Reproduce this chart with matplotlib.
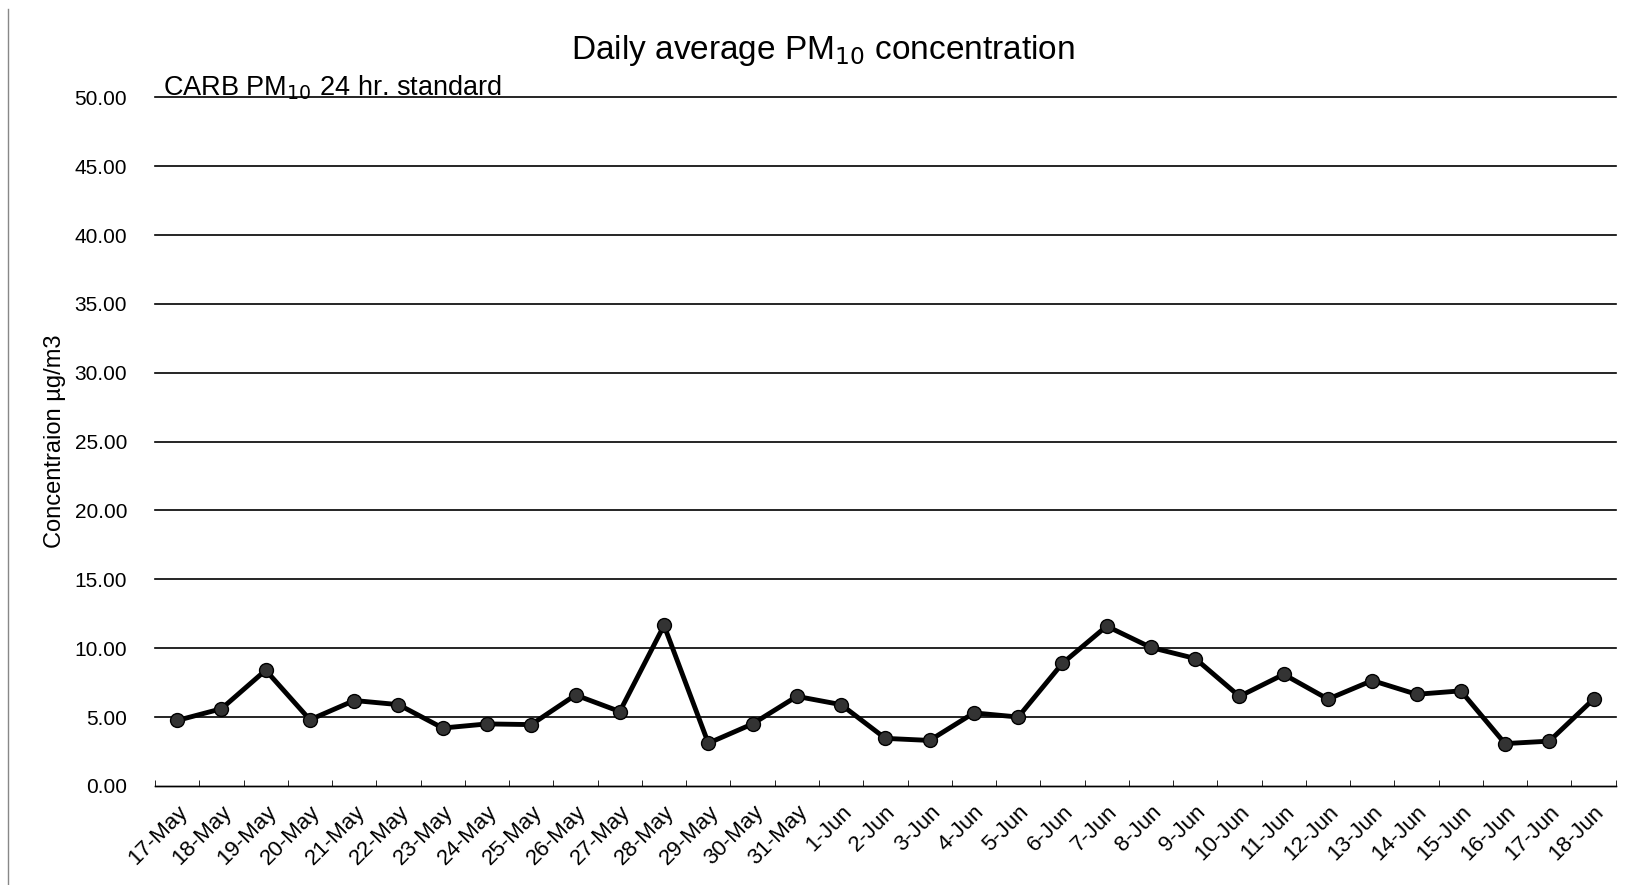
import numpy as np
import matplotlib.pyplot as plt

# daily average PM10
days = ["17-May", "18-May", "19-May", "20-May", "21-May", "22-May", "23-May",
        "24-May", "25-May", "26-May", "27-May", "28-May", "29-May", "30-May",
        "31-May", "1-Jun", "2-Jun", "3-Jun", "4-Jun", "5-Jun", "6-Jun", "7-Jun",
        "8-Jun", "9-Jun", "10-Jun", "11-Jun", "12-Jun", "13-Jun", "14-Jun",
        "15-Jun", "16-Jun", "17-Jun", "18-Jun"]
pm10 = [4.75, 5.6, 8.4, 4.8, 6.2, 5.9, 4.2, 4.5, 4.45, 6.6, 5.4, 11.65, 3.1,
        4.5, 6.5, 5.9, 3.45, 3.3, 5.3, 5.0, 8.9, 11.6, 10.05, 9.25, 6.5, 8.1,
        6.3, 7.65, 6.65, 6.9, 3.07, 3.25, 6.3]
yticks = [0, 5, 10, 15, 20, 25, 30, 35, 40, 45, 50]
standard = 50

plt.rcParams['font.family'] = ['Liberation Sans', 'DejaVu Sans']

fig = plt.figure(figsize=(16.37, 8.85), dpi=100)
ax = fig.add_axes([0.0947, 0.112, 0.8923, 0.778])

x = np.arange(len(days))
for t in yticks:
    ax.axhline(t, color='black', lw=1.2 if t else 1.0, zorder=1, clip_on=False)
ax.plot(x, pm10, color='black', lw=3.5, marker='o', ms=10,
        markerfacecolor='#333333', markeredgecolor='black', zorder=3)

ax.text(-0.33, standard - 0.35, "CARB PM$_{10}$ 24 hr. standard", fontsize=19.5,
        ha='left', va='bottom')

ax.set_xlim(-0.5, len(days) - 0.5)
ax.set_ylim(0, 50)
ax.set_yticks(yticks)
ax.set_yticklabels([f"{t:.2f}" for t in yticks], fontsize=15)
ax.set_xticks(x)
ax.set_xticklabels(days, rotation=45, ha='right', rotation_mode='anchor', fontsize=16)
ax.set_xticks(np.arange(-0.5, len(days)), minor=True)
ax.tick_params(axis='x', which='major', length=0, pad=11)
ax.tick_params(axis='x', which='minor', direction='in', length=4)
ax.tick_params(axis='y', length=0, pad=20)
for s in ['top', 'right', 'left']:
    ax.spines[s].set_visible(False)
ax.spines['bottom'].set_linewidth(1.0)

ax.set_ylabel("Concentraion µg/m3", fontsize=17, labelpad=6)
fig.text(0.503, 0.943, "Daily average PM$_{10}$ concentration", fontsize=24,
         ha='center', va='center')

# left edge line of the scanned frame
fig.add_artist(plt.Line2D([0.005, 0.005], [0.0, 0.99], color='#888888', lw=1))

fig.savefig("out.png", dpi=100)
